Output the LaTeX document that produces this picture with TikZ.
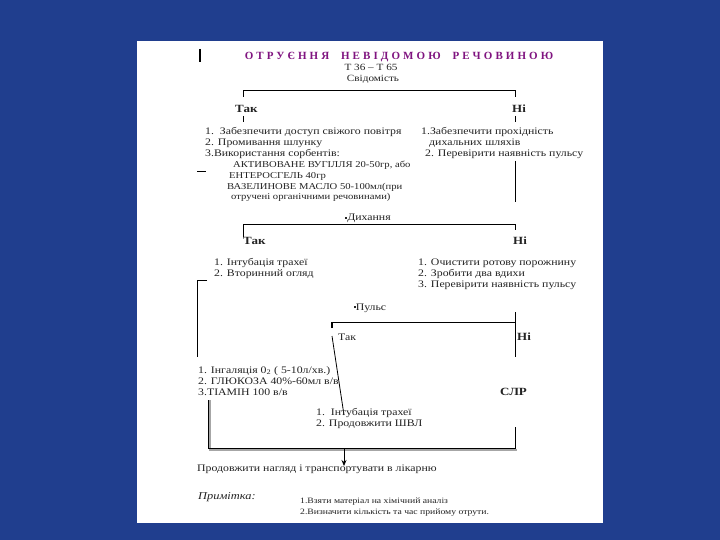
\documentclass[tikz,border=0pt]{standalone}
\usepackage{fontspec}
\setmainfont{Liberation Serif}[FakeStretch=1.18]
\newfontfamily\titlefont[LetterSpace=28]{Liberation Serif}
\usetikzlibrary{arrows.meta}
\definecolor{bgblue}{RGB}{32,62,142}
\definecolor{ttl}{RGB}{128,20,128}
\definecolor{txt}{RGB}{35,35,35}
\begin{document}
\begin{tikzpicture}[x=1pt,y=-1pt,
  t/.style={anchor=base west, inner sep=0pt, text=txt, font=\fontsize{10}{11}\selectfont},
  tp/.style={anchor=base west, inner sep=0pt, text=txt, font=\fontsize{9}{11}\selectfont},
  tc/.style={anchor=base, inner sep=0pt, text=txt, font=\fontsize{9.5}{11}\selectfont},
  tb/.style={t, font=\fontsize{11}{12}\selectfont\bfseries},
  ts/.style={t, font=\fontsize{8.2}{9}\selectfont},
  ln/.style={line width=0.8pt, black},
  shad/.style={line width=1.6pt, black!35}]
\useasboundingbox (0,0) rectangle (720,540);
\fill[bgblue] (0,0) rectangle (720,540);
\fill[white] (137,41) rectangle (603,523);

% marker
\draw[line width=2pt] (200,49) -- (200,62);

% title
\node[anchor=base, inner sep=0pt, text=ttl, font=\fontsize{11}{12}\selectfont\titlefont\bfseries] (title) at (399,60) {ОТРУЄННЯ\hspace{6pt} НЕВІДОМОЮ\hspace{6pt} РЕЧОВИНОЮ};
\node[tc] (temp) at (371,71) {Т 36 – Т 65};
\node[tc] (svid) at (373,82) {Свідомість};

% bracket 1
\coordinate (b1l) at (243,90); \coordinate (b1r) at (515,90);
\draw[ln] (243,97) -- (b1l) -- (b1r) -- (515,97);
\node[tb] (tak1) at (235,113) {Так};
\node[tb] (ni1) at (512,113) {Ні};
\draw[ln] (243,116) -- (243,122);
\draw[ln] (515,116) -- (515,122);

% left list 1
\node[t] (l1a) at (205,135) {1.\ \ Забезпечити доступ свіжого повітря};
\node[t] (l1b) at (205,146) {2. Промивання шлунку};
\node[t] (l1c) at (205,157) {3.Використання сорбентів:};
\node[tp] (l1d) at (233,168) {АКТИВОВАНЕ ВУГІЛЛЯ 20-50гр, або};
\node[tp] (l1e) at (229,179) {ЕНТЕРОСГЕЛЬ 40гр};
\node[tp] (l1f) at (227,190) {ВАЗЕЛИНОВЕ МАСЛО 50-100мл(при};
\node[tp] (l1g) at (231,200) {отручені органічними речовинами)};
\draw[ln] (197,171) -- (206,171);

% right list 1
\node[t] (r1a) at (421,135) {1.Забезпечити прохідність};
\node[t] (r1b) at (429,146) {дихальних шляхів};
\node[t] (r1c) at (425,157) {2. Перевірити наявність пульсу};
\draw[ln] (515,161) -- (515,202);

% breathing
\node[tc, font=\fontsize{10}{11}\selectfont] (dyh) at (368,221) {\raisebox{2pt}{\rule{2pt}{2pt}}Дихання};
\coordinate (b2l) at (243,224); \coordinate (b2r) at (515,224);
\draw[ln] (243,237) -- (b2l) -- (b2r) -- (515,230);
\node[tb] (tak2) at (243,244) {Так};
\node[tb] (ni2) at (513,244) {Ні};
\node[t] (l2a) at (214,265) {1. Інтубація трахеї};
\node[t] (l2b) at (214,276) {2. Вторинний огляд};
\node[t] (r2a) at (418,265) {1. Очистити ротову порожнину};
\node[t] (r2b) at (418,276) {2. Зробити два вдихи};
\node[t] (r2c) at (418,287) {3. Перевірити наявність пульсу};
\draw[ln] (207,280) -- (197,280) -- (197,357);

% pulse
\node[tc, font=\fontsize{10}{11}\selectfont] (puls) at (370,310) {\raisebox{2pt}{\rule{2pt}{2pt}}Пульс};
\coordinate (b3l) at (332,322); \coordinate (b3r) at (515,322);
\draw[line width=1.5pt] (332,328) -- (332,322);
\draw[ln] (b3l) -- (b3r);
\draw[ln] (515,312) -- (515,357);
\node[t] (tak3) at (338,340) {Так};
\node[tb] (ni3) at (517,340) {Ні};
\coordinate (d1) at (332,336); \coordinate (d2) at (344,415);
\draw[ln] (d1) -- (d2);

\node[t] (l3a) at (198,373) {1. Інгаляція 0\textsubscript{2} ( 5-10л/хв.)};
\node[t] (l3b) at (198,384) {2. ГЛЮКОЗА 40\%-60мл в/в};
\node[t] (l3c) at (198,395) {3.ТІАМІН 100 в/в};
\node[tb] (slr) at (500,395) {СЛР};
\node[t] (m3a) at (316,415) {1.\ \ Інтубація трахеї};
\node[t] (m3b) at (316,426) {2. Продовжити ШВЛ};

% bottom bracket
\coordinate (bl) at (208,448); \coordinate (br) at (515,448); \coordinate (bm) at (344,448);
\draw[shad] (210,400) -- (210,450) -- (517,450);
\draw[ln] (208,400) -- (bl) -- (br) -- (515,427);
\node[t] (cont) at (197,471) {Продовжити нагляд і транспортувати в лікарню};
\draw[ln, -{Stealth[length=6pt,width=5pt]}] (bm) -- (344,466);

% note
\node[t, font=\fontsize{10.5}{11}\selectfont\itshape] (prim) at (198,499) {Примітка:};
\node[ts] (n1) at (300,503) {1.Взяти матеріал на хімічний аналіз};
\node[ts] (n2) at (300,514) {2.Визначити кількість та час прийому отрути.};
\end{tikzpicture}
\end{document}
